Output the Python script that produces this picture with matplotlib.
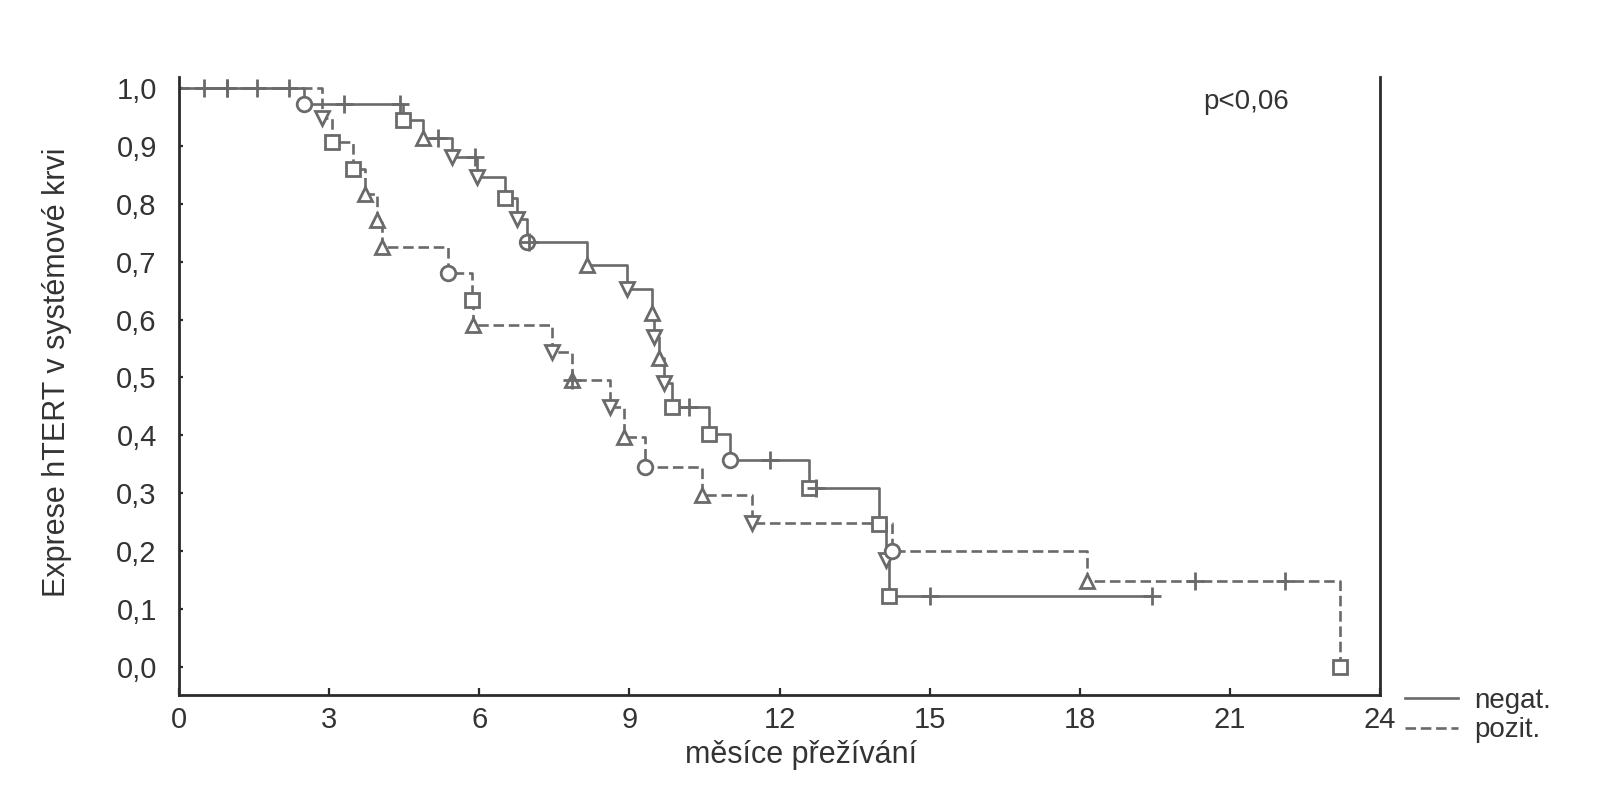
import matplotlib.pyplot as plt
from matplotlib.lines import Line2D

plt.rcParams['font.family'] = ['Liberation Sans', 'DejaVu Sans']

# ── Data ──────────────────────────────────────────────────────────────────────
# negat. group: event times (months) and KM survival after each event
neg_times = [2.49, 4.48, 4.88, 5.45, 5.95, 6.52, 6.75, 6.95, 8.15, 8.95,
             9.45, 9.49, 9.59, 9.69, 9.85, 10.59, 11.02, 12.59, 13.99, 14.12,
             14.18]
neg_surv = [0.972, 0.944, 0.914, 0.880, 0.846, 0.809, 0.774, 0.734, 0.694,
            0.652, 0.611, 0.569, 0.533, 0.490, 0.449, 0.403, 0.357, 0.309,
            0.247, 0.185, 0.122]
neg_censored = [0.95, 1.55, 2.2, 3.29, 4.42, 5.18, 5.92, 6.99, 10.19, 11.82,
                12.72, 15.0, 19.45]
neg_last = 19.45

# pozit. group
pos_times = [2.85, 3.05, 3.48, 3.72, 3.95, 4.05, 5.38, 5.85, 5.88, 7.45,
             7.85, 8.62, 8.89, 9.32, 10.45, 11.45, 14.25, 18.15, 23.2]
pos_surv = [0.948, 0.906, 0.860, 0.817, 0.771, 0.725, 0.680, 0.634, 0.590,
            0.544, 0.495, 0.449, 0.398, 0.346, 0.297, 0.248, 0.200, 0.148,
            0.0]
pos_censored = [0.5, 0.95, 7.85, 20.3, 22.1]
pos_last = 23.2

group_labels = ["negat.", "pozit."]
x_ticks = [0, 3, 6, 9, 12, 15, 18, 21, 24]
y_ticks = [0.0, 0.1, 0.2, 0.3, 0.4, 0.5, 0.6, 0.7, 0.8, 0.9, 1.0]
y_ticklabels = ["0,0", "0,1", "0,2", "0,3", "0,4", "0,5", "0,6", "0,7",
                "0,8", "0,9", "1,0"]
x_title = "měsíce přežívání"
y_title = "Exprese hTERT v systémové krvi"
p_text = "p<0,06"

# ── Style ─────────────────────────────────────────────────────────────────────
line_col = "#6a6a6a"
axis_col = "#2b2b2b"
lw = 1.9
dash = (0, (4.0, 1.8))
# STATISTICA style: every event gets its own hollow symbol
neg_markers = ["o", "s", "^", "v", "v", "s", "v", "o", "^", "v", "^", "v",
               "^", "v", "s", "s", "o", "s", "s", "v", "s"]
pos_markers = ["v", "s", "s", "^", "^", "^", "o", "s", "^", "v", "^", "v",
               "^", "o", "^", "v", "o", "^", "s"]


def level_at(times, surv, t):
    s = 1.0
    for ti, si in zip(times, surv):
        if ti <= t:
            s = si
    return s


def draw_group(ax, times, surv, last, censored, markers, ls):
    xs = [0] + times + [last]
    ys = [1.0] + surv + [surv[-1]]
    ax.step(xs, ys, where="post", color=line_col, lw=lw, linestyle=ls,
            zorder=2)
    for t, s, m in zip(times, surv, markers):
        ax.plot([t], [s], linestyle="none", marker=m, ms=10.5,
                mfc="white", mec=line_col, mew=2.0, zorder=3)
    cy = [level_at(times, surv, t) for t in censored]
    ax.plot(censored, cy, linestyle="none", marker="+", ms=13,
            mec=line_col, mew=2.0, zorder=3)


fig = plt.figure(figsize=(16.23, 8.0), dpi=100)
ax = fig.add_axes([179 / 1623, 1 - 695 / 800, 1201 / 1623, 618.3 / 800])

draw_group(ax, neg_times, neg_surv, neg_last, neg_censored, neg_markers, "-")
draw_group(ax, pos_times, pos_surv, pos_last, pos_censored, pos_markers, dash)

ax.set_xlim(0, 24)
ax.set_ylim(-0.048, 1.019)
ax.set_xticks(x_ticks)
ax.set_yticks(y_ticks)
ax.set_yticklabels(y_ticklabels)

ax.spines["top"].set_visible(False)
for side in ["left", "bottom", "right"]:
    ax.spines[side].set_color(axis_col)
    ax.spines[side].set_linewidth(2.0)

ax.tick_params(axis="x", direction="in", length=5, width=1.6,
               color=axis_col, labelsize=21, pad=8, labelcolor="#333333")
ax.tick_params(axis="y", direction="in", length=3, width=1.6,
               color=axis_col, labelsize=21, pad=16, labelcolor="#333333")

ax.set_xlabel(x_title, fontsize=22, color="#333333")
ax.xaxis.set_label_coords(0.518, -0.073)
ax.set_ylabel(y_title, fontsize=22, color="#333333")
ax.yaxis.set_label_coords(-0.089, 0.522)

ax.text(0.853, 0.959, p_text, transform=ax.transAxes, fontsize=20,
        color="#333333", ha="left", va="center")

handles = [Line2D([0], [0], color=line_col, lw=lw, linestyle="-"),
           Line2D([0], [0], color=line_col, lw=lw, linestyle=dash)]
fig.legend(handles, group_labels, loc="upper left",
           bbox_to_anchor=(1405 / 1623, 1 - 688 / 800), frameon=False,
           fontsize=20, handlelength=1.9, handletextpad=0.6,
           labelspacing=0.12, borderpad=0, borderaxespad=0,
           labelcolor="#333333")

fig.savefig("out.png", dpi=100)
